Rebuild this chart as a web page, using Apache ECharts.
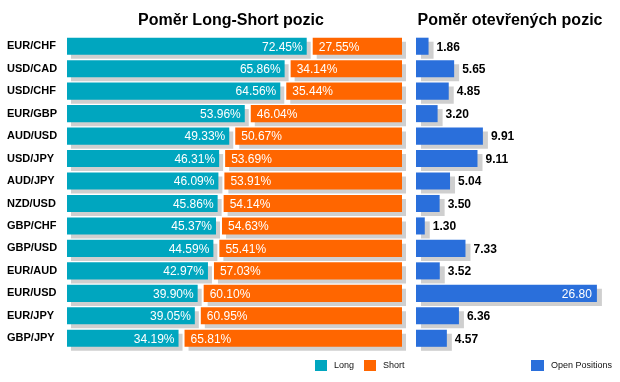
<!DOCTYPE html>
<html>
<head>
<meta charset="utf-8">
<script src="https://cdn.jsdelivr.net/npm/echarts@6/dist/echarts.min.js"></script>
<style>html,body{margin:0;padding:0;background:#fff}#c{width:620px;height:382px}</style>
</head>
<body>
<div id="c"></div>
<script>
const categories = ['EUR/CHF','USD/CAD','USD/CHF','EUR/GBP','AUD/USD','USD/JPY','AUD/JPY','NZD/USD','GBP/CHF','GBP/USD','EUR/AUD','EUR/USD','EUR/JPY','GBP/JPY'];
const longValues = [72.45,65.86,64.56,53.96,49.33,46.31,46.09,45.86,45.37,44.59,42.97,39.90,39.05,34.19];
const shortValues = [27.55,34.14,35.44,46.04,50.67,53.69,53.91,54.14,54.63,55.41,57.03,60.10,60.95,65.81];
const openValues = [1.86,5.65,4.85,3.20,9.91,9.11,5.04,3.50,1.30,7.33,3.52,26.80,6.36,4.57];

const TEAL = '#00A6BF', ORANGE = '#FF6600', BLUE = '#2A6FDB', SHADOW = '#CFCFCF';
const FONT = '"Liberation Sans", Arial, sans-serif';
const SX = 4, SY = 4, GAP = 3, BAR = 0.76;

function renderLong(params, api) {
  const v = api.value(0), i = api.value(1);
  const p0 = api.coord([0, i]), p1 = api.coord([v, i]);
  const h = api.size([0, 1])[1] * BAR;
  const x0 = p0[0], x1 = p1[0] - GAP, y = p0[1] - h / 2;
  return {type: 'group', children: [
    {type: 'rect', shape: {x: x0 + SX, y: y + SY, width: x1 - x0, height: h}, style: {fill: SHADOW}},
    {type: 'rect', shape: {x: x0, y: y, width: x1 - x0, height: h}, style: {fill: TEAL}},
    {type: 'text', style: {text: v.toFixed(2) + '%', x: x1 - 4, y: p0[1] + 1, align: 'right', verticalAlign: 'middle', fill: '#fff', font: '12px ' + FONT}}
  ]};
}
function renderShort(params, api) {
  const l = api.value(0), v = api.value(1), i = api.value(2);
  const pa = api.coord([l, i]), pb = api.coord([l + v, i]);
  const h = api.size([0, 1])[1] * BAR;
  const x0 = pa[0] + GAP, x1 = pb[0], y = pa[1] - h / 2;
  return {type: 'group', children: [
    {type: 'rect', shape: {x: x0 + SX, y: y + SY, width: x1 - x0, height: h}, style: {fill: SHADOW}},
    {type: 'rect', shape: {x: x0, y: y, width: x1 - x0, height: h}, style: {fill: ORANGE}},
    {type: 'text', style: {text: v.toFixed(2) + '%', x: x0 + 6, y: pa[1] + 1, align: 'left', verticalAlign: 'middle', fill: '#fff', font: '12px ' + FONT}}
  ]};
}
function renderOpen(params, api) {
  const v = api.value(0), i = api.value(1);
  const p0 = api.coord([0, i]), p1 = api.coord([v, i]);
  const h = api.size([0, 1])[1] * BAR;
  const x0 = p0[0], x1 = p1[0], y = p0[1] - h / 2;
  const right = params.coordSys.x + params.coordSys.width;
  const inside = x1 + 40 > right + 10;
  const txt = inside
    ? {type: 'text', style: {text: v.toFixed(2), x: x1 - 5, y: p0[1] + 1, align: 'right', verticalAlign: 'middle', fill: '#fff', font: '12px ' + FONT}}
    : {type: 'text', style: {text: v.toFixed(2), x: x1 + 8, y: p0[1] + 1, align: 'left', verticalAlign: 'middle', fill: '#000', font: 'bold 12px ' + FONT}};
  return {type: 'group', children: [
    {type: 'rect', shape: {x: x0 + SX + 1, y: y + SY, width: x1 - x0, height: h}, style: {fill: SHADOW}},
    {type: 'rect', shape: {x: x0, y: y, width: x1 - x0, height: h}, style: {fill: BLUE}},
    txt
  ]};
}

const chart = echarts.init(document.getElementById('c'), null, {renderer: 'canvas'});
const gridTop = 35, gridH = 314.5;
chart.setOption({
  animation: false,
  title: [
    {text: 'Poměr Long-Short pozic', left: 226, top: 8, textAlign: 'center', textStyle: {fontFamily: FONT, fontWeight: 'bold', fontSize: 16, color: '#000'}},
    {text: 'Poměr otevřených pozic', left: 505, top: 8, textAlign: 'center', textStyle: {fontFamily: FONT, fontWeight: 'bold', fontSize: 16, color: '#000'}}
  ],
  legend: [
    {data: ['Long', 'Short'], left: 315, top: 360, padding: 0, itemWidth: 12, itemHeight: 11, itemGap: 10, icon: 'rect',
     textStyle: {fontFamily: FONT, fontSize: 9, color: '#111', padding: [0, 0, 0, 2]}},
    {data: ['Open Positions'], left: 531, top: 360, padding: 0, itemWidth: 13, itemHeight: 11, icon: 'rect',
     textStyle: {fontFamily: FONT, fontSize: 9, color: '#111', padding: [0, 0, 0, 2]}}
  ],
  grid: [
    {left: 67, width: 335, top: gridTop, height: gridH},
    {left: 416, width: 189, top: gridTop, height: gridH}
  ],
  xAxis: [
    {gridIndex: 0, type: 'value', min: 0, max: 100, show: false},
    {gridIndex: 1, type: 'value', min: 0, max: 28, show: false}
  ],
  yAxis: [
    {gridIndex: 0, type: 'category', data: categories, inverse: true,
     axisLine: {show: false}, axisTick: {show: false}, splitLine: {show: false},
     axisLabel: {align: 'left', margin: 60, fontFamily: FONT, fontWeight: 'bold', fontSize: 11, color: '#000'}},
    {gridIndex: 1, type: 'category', data: categories, inverse: true, show: false}
  ],
  series: [
    {name: 'Long', type: 'custom', xAxisIndex: 0, yAxisIndex: 0, itemStyle: {color: TEAL},
     renderItem: renderLong, encode: {x: 0, y: 1},
     data: longValues.map((v, i) => [v, i])},
    {name: 'Short', type: 'custom', xAxisIndex: 0, yAxisIndex: 0, itemStyle: {color: ORANGE},
     renderItem: renderShort, encode: {x: [0, 1], y: 2},
     data: shortValues.map((v, i) => [longValues[i], v, i])},
    {name: 'Open Positions', type: 'custom', xAxisIndex: 1, yAxisIndex: 1, itemStyle: {color: BLUE},
     renderItem: renderOpen, encode: {x: 0, y: 1},
     data: openValues.map((v, i) => [v, i])}
  ]
});
</script>
</body>
</html>
